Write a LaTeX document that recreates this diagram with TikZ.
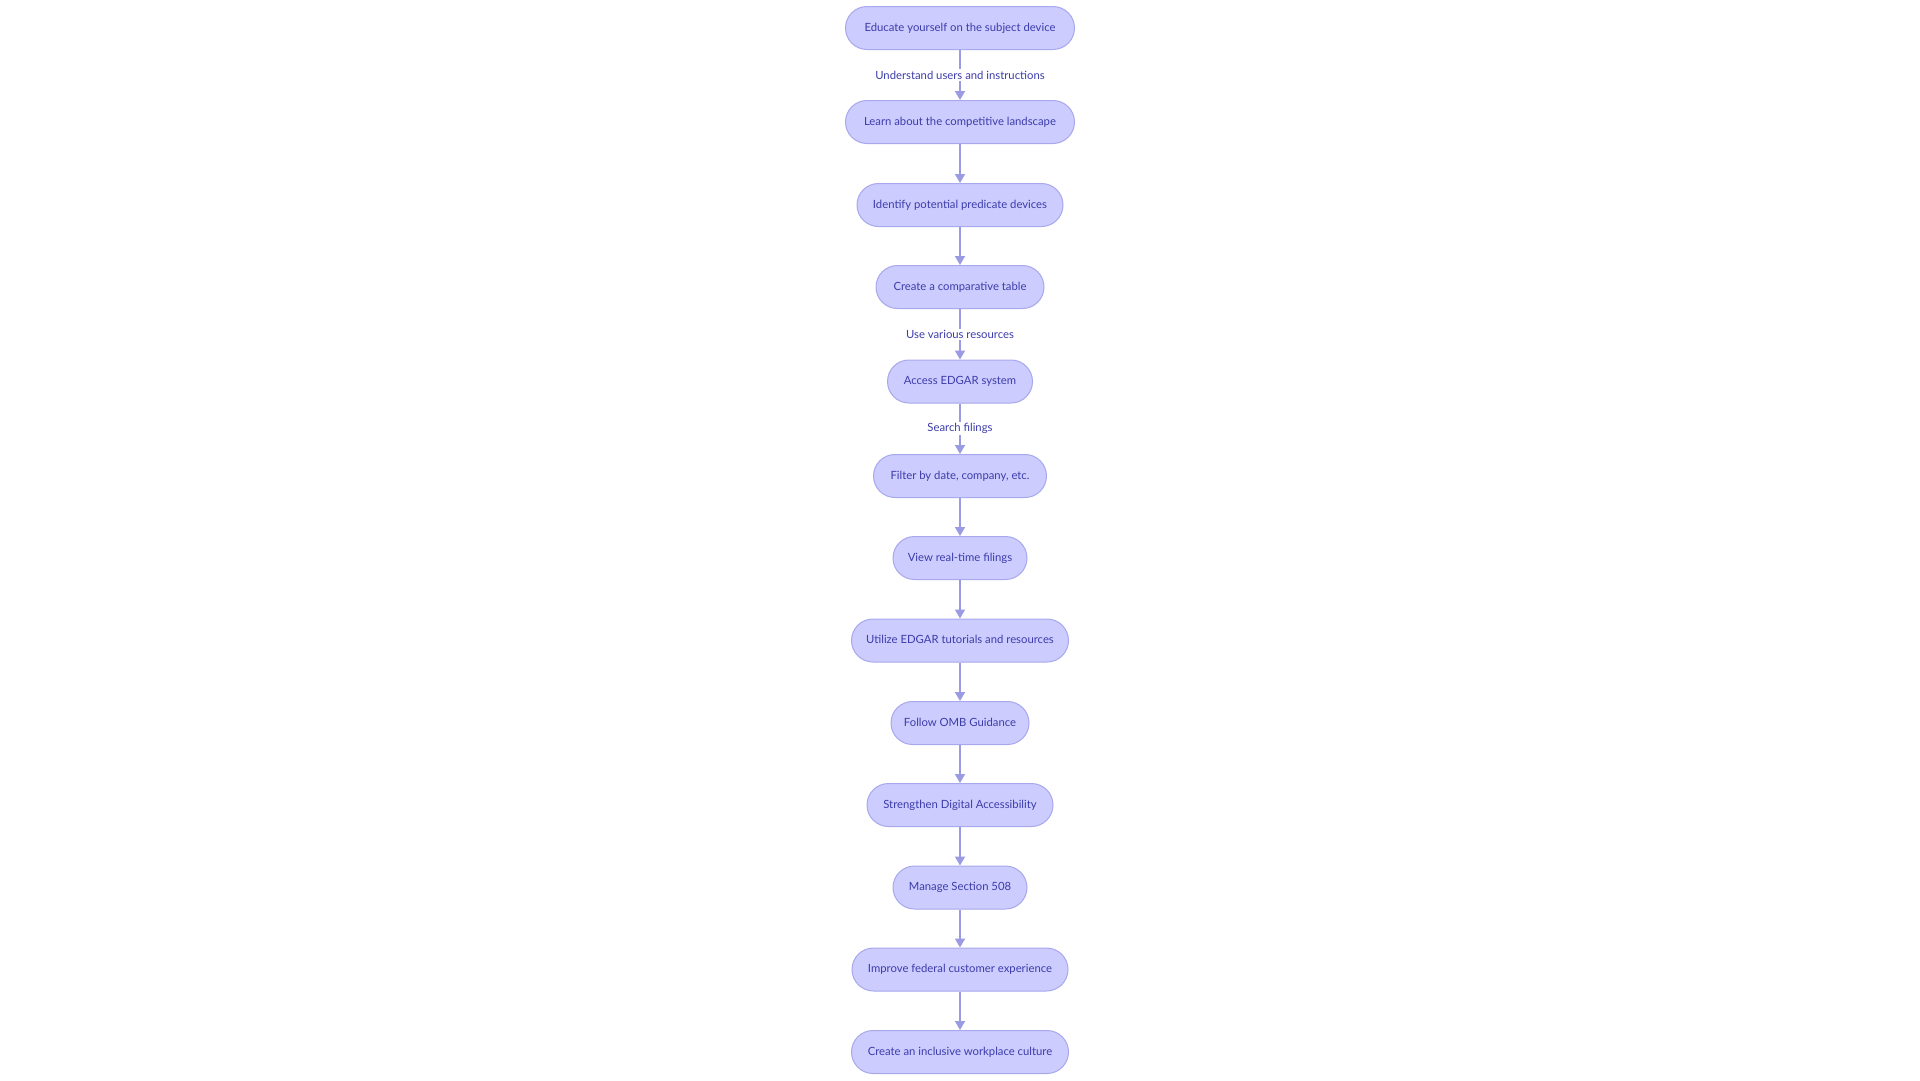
\documentclass[tikz,border=0pt]{standalone}
\usepackage{fontspec}
\setmainfont{Lato}
\usetikzlibrary{arrows.meta}
\definecolor{boxfill}{RGB}{204,204,255}
\definecolor{boxline}{RGB}{168,168,236}
\definecolor{boxtext}{RGB}{60,60,170}
\definecolor{flowline}{RGB}{155,155,228}
\tikzset{
  stepbox/.style={draw=boxline, fill=boxfill, text=boxtext, line width=1pt,
    rounded corners=21.5pt, minimum height=43pt, inner xsep=0pt,
    text height=8.2pt, text depth=2pt,
    font=\fontsize{11.3}{14}\selectfont},
  flow/.style={draw=flowline, line width=1.6pt, -{Triangle[width=10pt,length=9pt]}},
  flowlabel/.style={fill=white, text=boxtext, inner sep=1.5pt,
    font=\fontsize{11.3}{14}\selectfont}
}

\begin{document}
\begin{tikzpicture}[x=1pt, y=-1pt]
			%%%%% START %%%%%
			
			\fill[white] (0, 0) rectangle (1920, 1080);
			\useasboundingbox (0, 0) rectangle (1920, 1080);
			
			\node[stepbox, minimum width=229pt] (educate) at (960, 28) {Educate yourself on the subject device};
			\node[stepbox, minimum width=229pt] (landscape) at (960, 122) {Learn about the competitive landscape};
			\node[stepbox, minimum width=206pt] (predicate) at (960, 205) {Identify potential predicate devices};
			\node[stepbox, minimum width=168pt] (table) at (960, 287) {Create a comparative table};
			
			\node[stepbox, minimum width=145pt] (edgar) at (960, 381.5) {Access EDGAR system};
			\node[stepbox, minimum width=173pt] (filter) at (960, 476) {Filter by date, company, etc.};
			\node[stepbox, minimum width=134pt] (realtime) at (960, 558) {View real-time filings};
			\node[stepbox, minimum width=217pt] (tutorials) at (960, 640.5) {Utilize EDGAR tutorials and resources};
			
			\node[stepbox, minimum width=138pt] (omb) at (960, 723) {Follow OMB Guidance};
			\node[stepbox, minimum width=186pt] (access) at (960, 805) {Strengthen Digital Accessibility};
			\node[stepbox, minimum width=134pt] (section) at (960, 887.5) {Manage Section 508};
			\node[stepbox, minimum width=216pt] (customer) at (960, 969.5) {Improve federal customer experience};
			\node[stepbox, minimum width=217pt] (culture) at (960, 1052) {Create an inclusive workplace culture};
			
			\draw[flow] (educate) -- node[flowlabel] {Understand users and instructions} (landscape);
			\draw[flow] (landscape) -- (predicate);
			\draw[flow] (predicate) -- (table);
			\draw[flow] (table) -- node[flowlabel] {Use various resources} (edgar);
			\draw[flow] (edgar) -- node[flowlabel] {Search filings} (filter);
			\draw[flow] (filter) -- (realtime);
			\draw[flow] (realtime) -- (tutorials);
			\draw[flow] (tutorials) -- (omb);
			\draw[flow] (omb) -- (access);
			\draw[flow] (access) -- (section);
			\draw[flow] (section) -- (customer);
			\draw[flow] (customer) -- (culture);
			
			%%%%% END %%%%%
\end{tikzpicture}
\end{document}
